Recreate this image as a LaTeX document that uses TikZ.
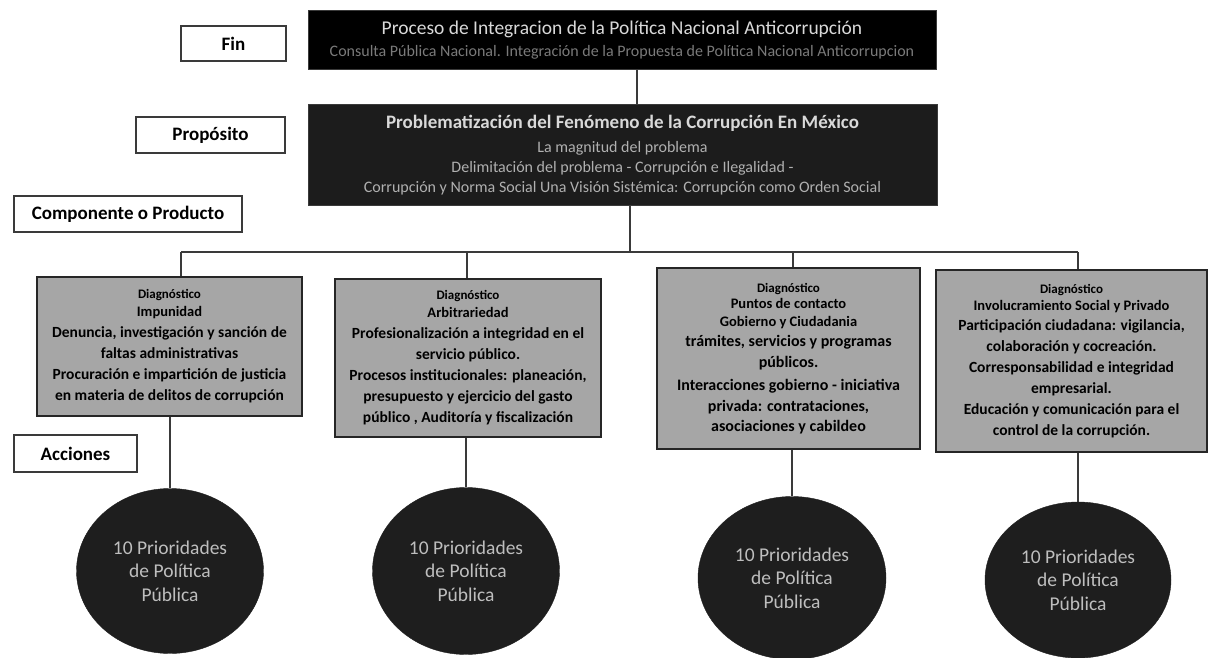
\documentclass[tikz,border=0pt]{standalone}
\usepackage{fontspec}
\setmainfont{Carlito}
\usetikzlibrary{shapes.geometric}
\definecolor{linec}{HTML}{3A3A3A}
\definecolor{propfill}{HTML}{1C1C1C}
\definecolor{greyfill}{HTML}{A6A6A6}
\definecolor{circfill}{HTML}{1E1E1E}
\definecolor{titlec}{HTML}{D9D9D9}
\definecolor{subc}{HTML}{7A7A7A}
\definecolor{propsub}{HTML}{B0B0B0}
\definecolor{circtext}{HTML}{BEBEBE}
\tikzset{
  labelbox/.style={draw=linec, line width=2pt, fill=white, inner sep=0pt,
    font=\fontsize{19}{22}\selectfont\bfseries},
  darkbox/.style={draw=linec, line width=1pt, inner sep=0pt, align=center},
  diagbox/.style={draw=black!85, line width=2pt, fill=greyfill, inner sep=0pt, align=center,
    font=\fontsize{15.5}{21}\selectfont\bfseries},
  prio/.style={ellipse, fill=circfill, draw=circfill, inner sep=0pt, align=center,
    text=circtext, font=\fontsize{19.5}{23.5}\selectfont},
  conn/.style={draw=linec, line width=2pt},
}
\newcommand{\dtitle}[1]{{\fontsize{13}{14}\selectfont #1}}
\newcommand{\dsub}[1]{{\fontsize{14.5}{16}\selectfont #1}}
\begin{document}
\begin{tikzpicture}[x=1pt,y=-1pt]
\useasboundingbox (0,0) rectangle (1213,658);
% labels
\node[labelbox, minimum width=105pt, minimum height=35pt] (fin) at (233.5,43.5) {Fin};
\node[labelbox, minimum width=149pt, minimum height=36pt] (proplab) at (210.5,135) {Propósito};
\node[labelbox, minimum width=228pt, minimum height=36pt] (complab) at (128,214) {Componente o Producto};
\node[labelbox, minimum width=123pt, minimum height=37pt] (acclab) at (75.5,453.5) {Acciones};
% top boxes
\node[darkbox, fill=black, minimum width=628pt, minimum height=59pt, font=\fontsize{16}{22}\selectfont] (top) at (622,40)
  {\textcolor{titlec}{\fontsize{19.5}{22}\selectfont Proceso de Integracion de la Política Nacional Anticorrupción}\\
   \textcolor{subc}{Consulta Pública Nacional. Integración de la Propuesta de Política Nacional Anticorrupcion}};
\node[darkbox, fill=propfill, minimum width=629pt, minimum height=101pt, font=\fontsize{16}{20}\selectfont] (prop) at (622.5,155)
  {\textcolor{titlec}{\fontsize{19}{20}\selectfont\bfseries Problematización del Fenómeno de la Corrupción En México}\\[4pt]
   \textcolor{propsub}{La magnitud del problema}\\
   \textcolor{propsub}{Delimitación del problema - Corrupción e Ilegalidad -}\\
   \textcolor{propsub}{Corrupción y Norma Social Una Visión Sistémica: Corrupción como Orden Social}};
% diagnostic boxes
\node[diagbox, minimum width=265pt, minimum height=139pt] (b1) at (169.5,346.5)
  {\dtitle{Diagnóstico}\\[-3pt] \dsub{Impunidad}\\[0pt]
   Denuncia, investigación y sanción de\\ faltas administrativas\\
   Procuración e impartición de justicia\\ en materia de delitos de corrupción};
\node[diagbox, minimum width=266pt, minimum height=158pt] (b2) at (468,358)
  {\dtitle{Diagnóstico}\\[-3pt] \dsub{Arbitrariedad}\\[0pt]
   Profesionalización a integridad en el\\ servicio público.\\
   Procesos institucionales: planeación,\\ presupuesto y ejercicio del gasto\\
   público , Auditoría y fiscalización};
\node[diagbox, minimum width=263pt, minimum height=181pt, font=\fontsize{16}{20.5}\selectfont\bfseries] (b3) at (788.5,358.5)
  {\dtitle{Diagnóstico}\\[-4pt] \dsub{Puntos de contacto}\\[-3pt] \dsub{Gobierno y Ciudadania}\\[0pt]
   trámites, servicios y programas\\ públicos.\\[3pt]
   Interacciones gobierno - iniciativa\\ privada: contrataciones,\\ asociaciones y cabildeo};
\node[diagbox, minimum width=271pt, minimum height=182pt] (b4) at (1071.5,361)
  {\dtitle{Diagnóstico}\\[-4pt] \dsub{Involucramiento Social y Privado}\\[-1pt]
   Participación ciudadana: vigilancia,\\ colaboración y cocreación.\\
   Corresponsabilidad e integridad\\ empresarial.\\
   Educación y comunicación para el\\ control de la corrupción.};
% priority circles
\node[prio, minimum width=187pt, minimum height=165pt] (c1) at (170,571) {10 Prioridades\\ de Política\\ Pública};
\node[prio, minimum width=187pt, minimum height=167pt] (c2) at (466,571) {10 Prioridades\\ de Política\\ Pública};
\node[prio, minimum width=188pt, minimum height=163pt] (c3) at (792,578) {10 Prioridades\\ de Política\\ Pública};
\node[prio, minimum width=186pt, minimum height=156pt] (c4) at (1078,580) {10 Prioridades\\ de Política\\ Pública};
% junctions
\coordinate (j0) at (630,252);
\coordinate (j1) at (181,252);
\coordinate (j2) at (467,252);
\coordinate (j3) at (793,252);
\coordinate (j4) at (1078,252);
\coordinate (t0) at (637,0);
% connectors
\draw[conn] (t0 |- top.south) -- (t0 |- prop.north);
\draw[conn] (j0 |- prop.south) -- (j0);
\draw[conn] (j1) -- (j4);
\draw[conn] (j1) -- (j1 |- b1.north);
\draw[conn] (j2) -- (j2 |- b2.north);
\draw[conn] (j3) -- (j3 |- b3.north);
\draw[conn] (j4) -- (j4 |- b4.north);
\draw[conn] (c1.north |- b1.south) -- (c1.north);
\draw[conn] (c2.north |- b2.south) -- (c2.north);
\draw[conn] (c3.north |- b3.south) -- (c3.north);
\draw[conn] (c4.north |- b4.south) -- (c4.north);
\end{tikzpicture}
\end{document}
